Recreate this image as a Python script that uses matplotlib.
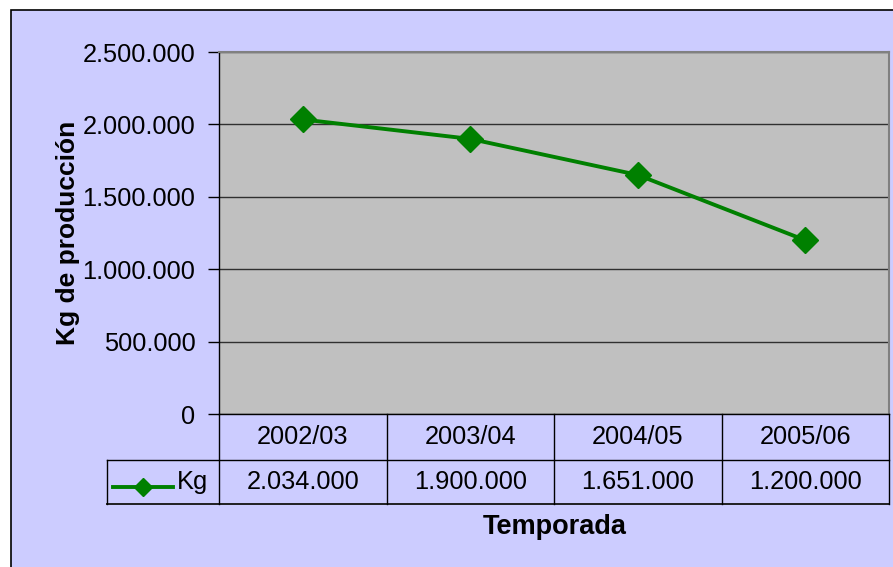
import matplotlib
matplotlib.use("Agg")
import matplotlib.pyplot as plt
from matplotlib.patches import Rectangle
from matplotlib.lines import Line2D
from matplotlib.ticker import FuncFormatter, MultipleLocator
from matplotlib import transforms

plt.rcParams['font.family'] = ['Liberation Sans', 'DejaVu Sans']

temporadas = ["2002/03", "2003/04", "2004/05", "2005/06"]
kg = [2034000, 1900000, 1651000, 1200000]
serie = "Kg"

W, H = 893, 567
fig = plt.figure(figsize=(W / 100, H / 100), dpi=100)
fig.patch.set_facecolor("white")


def fx(x):
    return x / W


def fy(y):
    return 1 - y / H


def miles(v, pos=None):
    return f"{int(v):,}".replace(",", ".")


# marco del grafico (se sale por la derecha y por abajo)
fig.patches.append(Rectangle((fx(11), fy(580)), fx(910) - fx(11), fy(10) - fy(580),
                             transform=fig.transFigure, facecolor="#CCCCFF",
                             edgecolor="black", linewidth=1.2, zorder=-5))

ax = fig.add_axes([fx(219), fy(414), fx(889) - fx(219), fy(52) - fy(414)])
ax.set_facecolor("#C0C0C0")
x = list(range(len(temporadas)))
ax.plot(x, kg, color="#008000", linewidth=2.8, marker="D", markersize=13,
        markeredgecolor="#008000", zorder=3)

ax.set_xlim(-0.5, len(temporadas) - 0.5)
ax.set_ylim(0, 2500000)
ax.yaxis.set_major_locator(MultipleLocator(500000))
ax.yaxis.set_major_formatter(FuncFormatter(miles))
ax.grid(axis="y", color="#303030", linewidth=1)
ax.set_axisbelow(True)
ax.set_xticks([])
ax.tick_params(axis="y", length=8, width=1, pad=9, labelsize=18.3, direction="out")
for s in ["top", "right"]:
    ax.spines[s].set_color("#808080")
    ax.spines[s].set_linewidth(1.5)
for s in ["left", "bottom"]:
    ax.spines[s].set_color("black")
    ax.spines[s].set_linewidth(1)

ax.set_ylabel("Kg de producción", fontsize=19, fontweight="bold", labelpad=2)

# tabla de datos
bt = transforms.blended_transform_factory(ax.transData, fig.transFigure)
y_eje, y_fila, y_fin = fy(414), fy(460), fy(504)
x_izq = -0.5 - (219 - 107) / ((889 - 219) / len(temporadas))
lw = 1
fig.lines.append(Line2D([x_izq, len(temporadas) - 0.5], [y_fila, y_fila], transform=bt, color="black", lw=lw))
fig.lines.append(Line2D([x_izq, len(temporadas) - 0.5], [y_fin, y_fin], transform=bt, color="#202020", lw=1.4))
fig.lines.append(Line2D([x_izq, x_izq], [y_fila, y_fin], transform=bt, color="black", lw=lw))
for i in range(len(temporadas) + 1):
    xb = i - 0.5
    fig.lines.append(Line2D([xb, xb], [y_eje, y_fin], transform=bt, color="black", lw=lw))

for i, (t, v) in enumerate(zip(temporadas, kg)):
    fig.text(i, (y_eje + y_fila) / 2, t, transform=bt, ha="center", va="center", fontsize=18.3)
    fig.text(i, (y_fila + y_fin) / 2, miles(v), transform=bt, ha="center", va="center", fontsize=18.3)

# leyenda dentro de la tabla
y_ley = fy(487)
fig.lines.append(Line2D([fx(113), fx(173)], [y_ley, y_ley], transform=fig.transFigure,
                        color="#008000", lw=2.8))
fig.lines.append(Line2D([fx(143)], [y_ley], transform=fig.transFigure, color="#008000",
                        marker="D", markersize=9, linestyle="none"))
fig.text(fx(177), fy(482), serie, ha="left", va="center", fontsize=18.3)

fig.text(fx(555), fy(527), "Temporada", ha="center", va="center", fontsize=19.5, fontweight="bold")

fig.savefig("out.png", dpi=100)
